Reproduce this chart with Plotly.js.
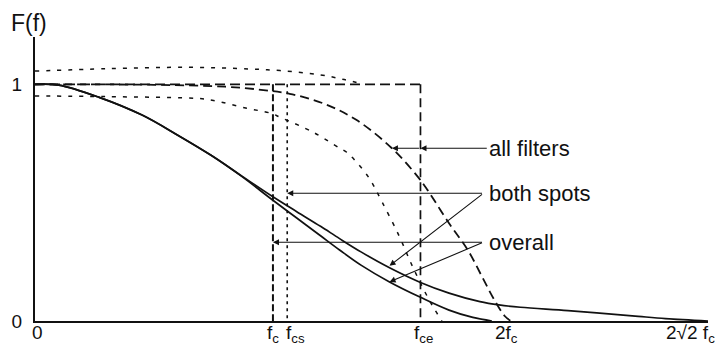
<!DOCTYPE html>
<html>
<head>
<meta charset="utf-8">
<script src="https://cdn.plot.ly/plotly-3.0.1.min.js"></script>
<style>
  html, body { margin: 0; padding: 0; background: #fff; }
  #chart { width: 719px; height: 349px; }
</style>
</head>
<body>
<div id="chart"></div>
<script>
// Frequency in units of fc; response F(f) as a fraction of the low-frequency value.
const overallX = [0, 0.1, 0.27, 0.45, 0.6, 0.74, 0.87, 1.0, 1.1, 1.2, 1.28, 1.37, 1.49, 1.62, 1.74, 1.84, 1.92];
const overallY = [1, 0.997, 0.945, 0.87, 0.785, 0.70, 0.61, 0.51, 0.435, 0.36, 0.30, 0.236, 0.165, 0.10, 0.046, 0.015, 0];

const spotsX = [0, 0.1, 0.27, 0.45, 0.6, 0.74, 0.87, 1.0, 1.1, 1.2, 1.28, 1.37, 1.49, 1.62, 1.74, 1.87, 1.95, 2.04, 2.24, 2.51, 2.65, 2.83];
const spotsY = [1, 0.997, 0.945, 0.87, 0.785, 0.70, 0.612, 0.525, 0.462, 0.40, 0.348, 0.292, 0.225, 0.163, 0.118, 0.082, 0.068, 0.058, 0.044, 0.022, 0.01, 0];

const filtersX = [0, 0.5, 0.8, 0.95, 1.07, 1.21, 1.35, 1.5, 1.61, 1.65, 1.74, 1.82, 1.88, 1.93, 1.975, 2.0];
const filtersY = [1, 0.998, 0.99, 0.977, 0.96, 0.92, 0.85, 0.73, 0.608, 0.553, 0.413, 0.298, 0.185, 0.09, 0.02, 0];

const upperDotX = [0, 0.3, 0.64, 0.9, 1.03, 1.2, 1.3, 1.37];
const upperDotY = [1.056, 1.066, 1.072, 1.065, 1.058, 1.04, 1.02, 1.003];

const lowerDotX = [0, 0.3, 0.69, 0.75, 0.89, 0.99, 1.03, 1.17, 1.28, 1.31, 1.40, 1.46, 1.53, 1.58, 1.63, 1.67, 1.71];
const lowerDotY = [0.951, 0.948, 0.94, 0.932, 0.899, 0.878, 0.861, 0.797, 0.73, 0.713, 0.61, 0.50, 0.36, 0.245, 0.14, 0.065, 0];

// Ideal cut-offs: fc, fcs, fce
const cutoffs = [1.0, 1.06, 1.62];
const cutoffDash = ["7px,3px", "3px,4px", "9px,5px"];
const cutoffWidth = [2, 1.6, 1.7];

const tickVals = [0, 1.0, 1.06, 1.62, 2.0, 2 * Math.SQRT2];
const tickText = ["0", "f<sub>c</sub>", "f<sub>cs</sub>", "f<sub>ce</sub>", "2f<sub>c</sub>", "2√2 f<sub>c</sub>"];
const tickAnchor = ["center", "center", "left", "center", "center", "right"];
const tickShift = [2, 0, -3, 3, -4, 9];

const FONT = "'Liberation Sans', Arial, sans-serif";
const INK = "#111";

const traces = [];
const curve = (x, y, dash, width) => ({
  x, y, type: "scatter", mode: "lines",
  line: { color: INK, width, dash, shape: "spline", smoothing: 1 },
  hoverinfo: "skip", showlegend: false
});

traces.push(curve(overallX, overallY, "solid", 1.7));
traces.push(curve(spotsX, spotsY, "solid", 1.7));
traces.push(curve(filtersX, filtersY, "9px,5px", 1.8));
traces.push(curve(upperDotX, upperDotY, "4px,7px", 1.5));
traces.push(curve(lowerDotX, lowerDotY, "4px,7px", 1.5));

// Top of the ideal pass-bands, out to the widest cut-off
traces.push({
  x: [0, cutoffs[2]], y: [1, 1], type: "scatter", mode: "lines",
  line: { color: INK, width: 1.7, dash: "10px,5px" }, hoverinfo: "skip", showlegend: false
});
// Vertical edges of the ideal pass-bands
cutoffs.forEach((c, i) => {
  traces.push({
    x: [c, c], y: [1, 0], type: "scatter", mode: "lines",
    line: { color: INK, width: cutoffWidth[i], dash: cutoffDash[i] }, hoverinfo: "skip", showlegend: false
  });
});

const labelFont = { family: FONT, size: 22, color: INK };
const annotations = [];

// x-axis tick labels
tickVals.forEach((v, i) => {
  annotations.push({
    x: v, xref: "x", y: 0, yref: "paper", yanchor: "top", yshift: 1,
    xanchor: tickAnchor[i], xshift: tickShift[i],
    text: tickText[i], showarrow: false, font: { family: FONT, size: 19, color: INK }
  });
});

// Axis name, above the y axis
annotations.push({
  x: -0.039, xref: "paper", y: 1.05, yref: "paper",
  text: "F(f)", showarrow: false,
  xanchor: "left", yanchor: "middle", font: { family: FONT, size: 23, color: INK }
});

// Label pointers
const tailX = 1.885;
const pA = 7;   // point on the all-filters curve
const pS = 12;  // point on the both-spots curve
const pO = 12;  // point on the overall curve
const yAll = filtersY[pA];
const ySpots = 0.54;
const yOver = 0.333;

const arrow = (x, y, ax, ay) => ({
  x, y, ax, ay, xref: "x", yref: "y", axref: "x", ayref: "y",
  text: "", showarrow: true, arrowhead: 2, arrowsize: 1.1, arrowwidth: 1.1,
  arrowcolor: INK, standoff: 0, startstandoff: 0
});
annotations.push(arrow(cutoffs[2], yAll, tailX + 0.02, yAll));
annotations.push(arrow(filtersX[pA], yAll, cutoffs[2], yAll));
annotations.push(arrow(cutoffs[1], ySpots, tailX, ySpots));
annotations.push(arrow(spotsX[pS], spotsY[pS] + 0.008, tailX, ySpots));
annotations.push(arrow(cutoffs[0], yOver, tailX, yOver));
annotations.push(arrow(overallX[pO], overallY[pO], tailX, yOver));

const text = (t, x, y) => ({
  x, y, xref: "x", yref: "y", text: t, showarrow: false,
  xanchor: "left", yanchor: "middle", font: labelFont
});
annotations.push(text("all filters", 1.9, yAll));
annotations.push(text("both spots", 1.9, ySpots));
annotations.push(text("overall", 1.9, yOver));

const layout = {
  width: 719, height: 349,
  margin: { l: 35, r: 11, t: 36.6, b: 28 },
  paper_bgcolor: "#fff", plot_bgcolor: "#fff",
  showlegend: false,
  xaxis: {
    range: [0, 2 * Math.SQRT2], showgrid: false, zeroline: false,
    showline: true, linecolor: INK, linewidth: 2,
    showticklabels: false, ticks: ""
  },
  yaxis: {
    range: [0, 1.2], showgrid: false, zeroline: false,
    showline: true, linecolor: INK, linewidth: 2,
    tickvals: [0, 1], ticktext: ["0", "1"], ticks: "",
    ticklabelstandoff: 7,
    tickfont: { family: FONT, size: 19, color: INK }
  },
  annotations
};

Plotly.newPlot("chart", traces, layout, { staticPlot: true, displayModeBar: false });
</script>
</body>
</html>
